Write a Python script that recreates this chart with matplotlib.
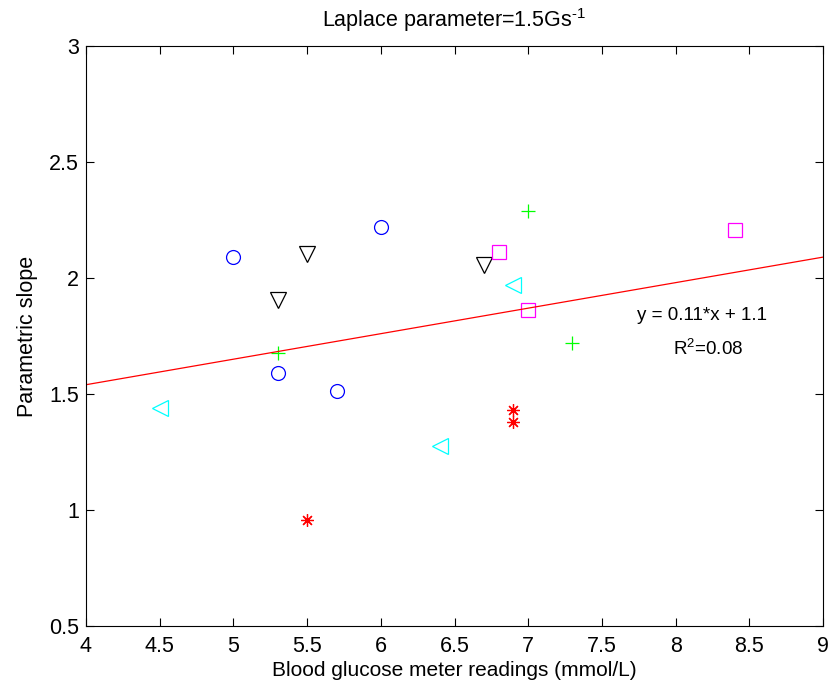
import matplotlib
matplotlib.use("Agg")
import matplotlib.pyplot as plt
import numpy as np

plt.rcParams['font.family'] = ['Liberation Sans', 'DejaVu Sans']
plt.rcParams['mathtext.fontset'] = 'custom'
plt.rcParams['mathtext.rm'] = 'Liberation Sans'
plt.rcParams['mathtext.it'] = 'Liberation Sans:italic'

# Measurements grouped by subject
circle_x = [5.0, 6.0, 5.3, 5.7]
circle_y = [2.09, 2.22, 1.59, 1.515]
tri_down_x = [5.5, 5.3, 6.7]
tri_down_y = [2.105, 1.905, 2.055]
square_x = [6.8, 7.0, 8.4]
square_y = [2.11, 1.86, 2.205]
plus_x = [7.0, 5.3, 7.3]
plus_y = [2.29, 1.675, 1.72]
tri_left_x = [4.5, 6.4, 6.9]
tri_left_y = [1.44, 1.275, 1.97]
star_x = [5.5, 6.9, 6.9]
star_y = [0.955, 1.43, 1.38]

# Linear fit
slope = 0.11
intercept = 1.1
r_squared = 0.08

x_ticks = [4, 4.5, 5, 5.5, 6, 6.5, 7, 7.5, 8, 8.5, 9]
y_ticks = [0.5, 1, 1.5, 2, 2.5, 3]

fig = plt.figure(figsize=(8.33, 6.92), dpi=100)
ax = fig.add_axes([86/833, 1-626/692, (823-86)/833, (626-46)/692])

ms = 10
lw = 0.9
asterisk = (8, 2, 0)
ax.plot(circle_x, circle_y, 'o', mfc='none', mec='blue', ms=ms, mew=lw)
ax.plot(tri_down_x, tri_down_y, 'v', mfc='none', mec='black', ms=ms+1, mew=lw)
ax.plot(square_x, square_y, 's', mfc='none', mec='magenta', ms=ms, mew=lw)
ax.plot(plus_x, plus_y, '+', color='#00ff00', ms=ms, mew=lw)
ax.plot(tri_left_x, tri_left_y, '<', mfc='none', mec='cyan', ms=ms+1, mew=lw)
ax.plot(star_x, star_y, marker=asterisk, ls='none', color='red', ms=ms - 1, mew=lw)

lx = np.array([4, 9])
ax.plot(lx, slope*lx + intercept, color='red', lw=0.9)

ax.text(8.18, 1.84, 'y = %.2f*x + %.1f' % (slope, intercept), ha='center', va='center', fontsize=13.5)
ax.text(8.22, 1.695, 'R$^2$=%.2f' % r_squared, ha='center', va='center', fontsize=13.5)

ax.set_xlim(4, 9)
ax.set_ylim(0.5, 3)
ax.set_xticks(x_ticks)
ax.set_yticks(y_ticks)
ax.set_xticklabels(['%g' % v for v in x_ticks])
ax.set_yticklabels(['%g' % v for v in y_ticks])
ax.tick_params(direction='in', top=True, right=True, labelsize=15.5, length=6, width=0.8)
ax.tick_params(axis='x', pad=7)
ax.tick_params(axis='y', pad=5)
for s in ax.spines.values():
    s.set_linewidth(0.8)

ax.set_xlabel('Blood glucose meter readings (mmol/L)', fontsize=15, labelpad=3)
ax.set_ylabel('Parametric slope', fontsize=15.5, labelpad=8)
ax.set_title('Laplace parameter=1.5Gs$^{\\text{-}1}$', fontsize=15.5, pad=14)

fig.savefig('out.png', dpi=100)
